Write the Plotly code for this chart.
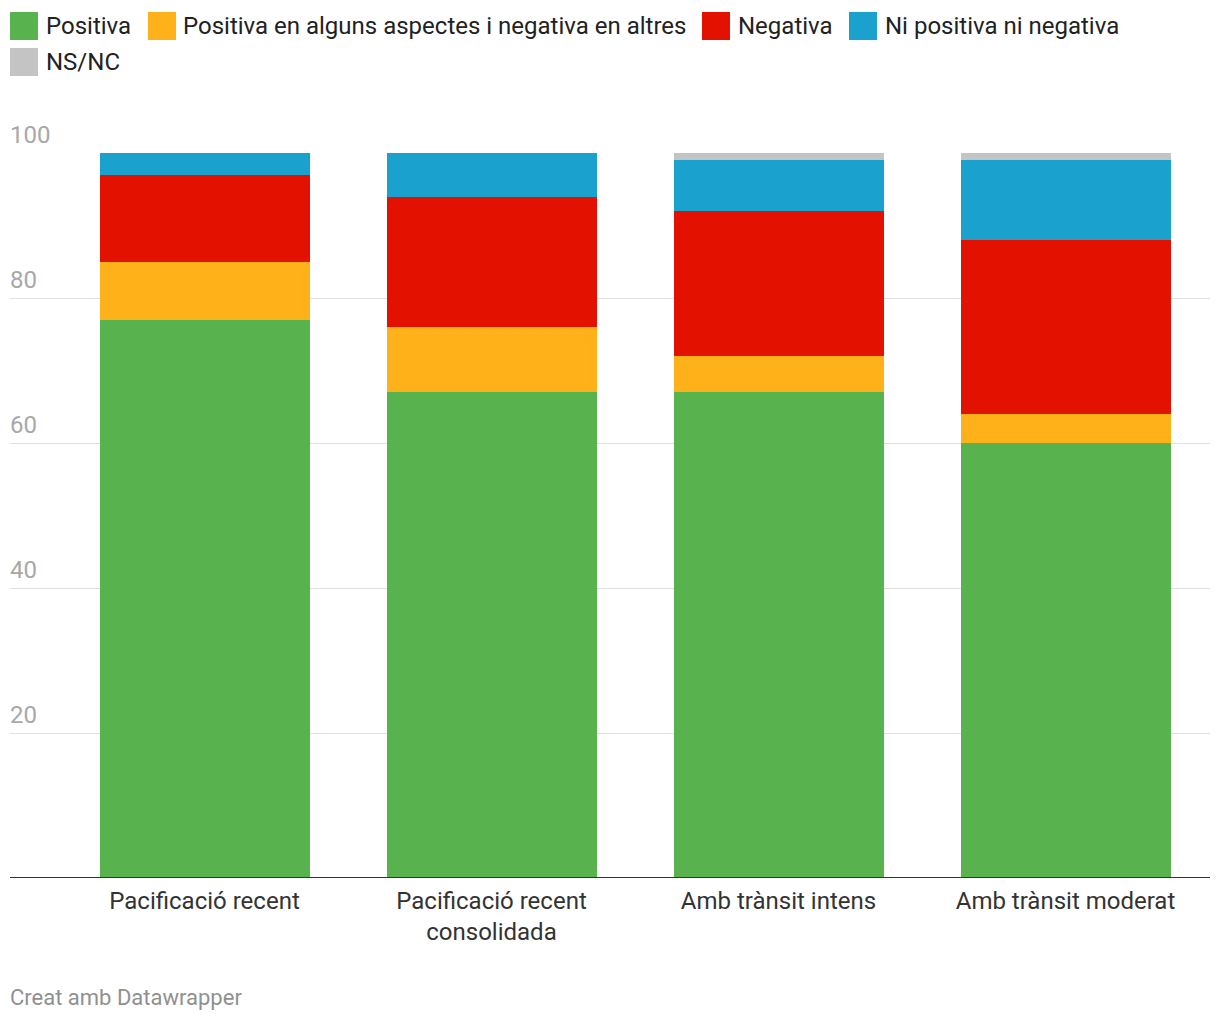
import plotly.graph_objects as go

categories = ["Pacificació recent", "Pacificació recent<br>consolidada",
              "Amb trànsit intens", "Amb trànsit moderat"]
series_names = ["Positiva", "Positiva en alguns aspectes i negativa en altres",
                "Negativa", "Ni positiva ni negativa", "NS/NC"]
positiva = [77, 67, 67, 60]
mixta = [8, 9, 5, 4]
negativa = [12, 18, 20, 24]
ni_ni = [3, 6, 7, 11]
nsnc = [0, 0, 1, 1]
y_ticks = [20, 40, 60, 80, 100]
colors = ["#58b24e", "#ffb11a", "#e31200", "#1aa1cd", "#c4c4c4"]

W, H = 1220, 1020
L, R, T, B = 10, 10, 153, 142
PW, PH = W - L - R, H - T - B

def px(x):
    return (x - L) / PW

def py(y):
    return (H - B - y) / PH

FONT = "Roboto, 'Open Sans', sans-serif"

fig = go.Figure()
for name, vals, col in zip(series_names, [positiva, mixta, negativa, ni_ni, nsnc], colors):
    fig.add_trace(go.Bar(x=categories, y=vals, name=name, marker=dict(color=col, line=dict(width=0)),
                         showlegend=False, hovertemplate="%{x}: %{y}<extra>" + name + "</extra>"))

step = 287.0
right = 3.5 + 1.0 / step
left = right - PW / step

fig.update_layout(
    width=W, height=H, barmode="stack", bargap=1 - 210 / step,
    margin=dict(l=L, r=R, t=T, b=B), plot_bgcolor="white", paper_bgcolor="white",
    font=dict(family=FONT, size=20, color="#333"),
    xaxis=dict(range=[left, right], showgrid=False, showline=False, ticks="",
               tickfont=dict(size=24, color="#333"), zeroline=False, fixedrange=True,
               ticklabelstandoff=6),
    yaxis=dict(range=[0, 100], tickvals=y_ticks, showticklabels=False, showgrid=True,
               gridcolor="#e0e0e0", gridwidth=1, zeroline=False, showline=False, fixedrange=True),
)

# baseline
fig.add_shape(type="line", xref="paper", yref="y", x0=0, x1=1, y0=0, y1=0,
              line=dict(color="#333", width=2))

# y tick labels above gridlines
for v in y_ticks:
    fig.add_annotation(xref="paper", yref="y", x=0, y=v, text=str(v), showarrow=False,
                       xanchor="left", yanchor="bottom", yshift=2, xshift=-2,
                       font=dict(size=24, color="#a8a8a8", family=FONT))

# custom legend
legend_items = [
    (0, 10, 12, 46),
    (1, 148, 12, 183),
    (2, 702, 12, 738),
    (3, 849, 12, 885),
    (4, 10, 48, 46),
]
for idx, sx, sy, tx in legend_items:
    fig.add_shape(type="rect", xref="paper", yref="paper", x0=px(sx), x1=px(sx + 28),
                  y0=py(sy + 28), y1=py(sy), fillcolor=colors[idx], line=dict(width=0))
    fig.add_annotation(xref="paper", yref="paper", x=px(tx), y=py(sy + 14), text=series_names[idx],
                       showarrow=False, xanchor="left", yanchor="middle", xshift=-2,
                       font=dict(size=24, color="#222", family=FONT))

fig.add_annotation(xref="paper", yref="paper", x=0, y=py(997), text="Creat amb Datawrapper",
                   showarrow=False, xanchor="left", yanchor="middle", xshift=-2,
                   font=dict(size=22, color="#909090", family=FONT))

fig.write_html("out.html")
